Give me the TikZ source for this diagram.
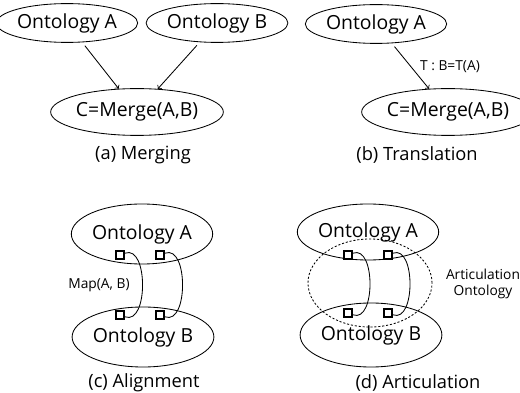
\documentclass[tikz,border=0pt]{standalone}
\usepackage{fontspec}
\setmainfont{Open Sans}
\usetikzlibrary{shapes.geometric}

\tikzset{
  onto/.style={ellipse, draw, inner sep=0pt, font=\fontsize{13.8}{16}\selectfont},
  elem/.style={draw, fill=white, line width=1.7pt, inner sep=0pt, minimum size=5.5pt},
  capt/.style={font=\fontsize{13}{15}\selectfont},
  note/.style={font=\fontsize{9.8}{11.5}\selectfont},
}

\begin{document}
\begin{tikzpicture}[x=0.025cm, y=-0.025cm, line width=0.6pt]
	\useasboundingbox (0,0) rectangle (520,393);
	% (a) merging
	\node[onto, minimum width=3.1cm, minimum height=0.97cm] (ma) at (67,23) {Ontology A};
	\node[onto, minimum width=3.1cm, minimum height=0.97cm] (mb) at (217,23) {Ontology B};
	\node[onto, minimum width=3.5cm, minimum height=1.17cm] (mc) at (137,112) {C=Merge(A,B)};
	\draw[->, shorten <=3pt] (ma) -- (mc);
	\draw[->, shorten <=3pt] (mb) -- (mc);
	\node[capt] (mcap) at (143,155) {(a) Merging};
	% (b) translation
	\node[onto, minimum width=3.1cm, minimum height=0.97cm] (ta) at (376,24) {Ontology A};
	\node[onto, minimum width=3.5cm, minimum height=1.17cm] (tc) at (448,112) {C=Merge(A,B)};
	\draw[->, shorten <=3pt] (ta) -- (tc);
	\node[note] (tlab) at (450,67) {T : B=T(A)};
	\node[capt] (tcap) at (417,155) {(b) Translation};
	% (c) alignment
	\node[onto, minimum width=3cm, minimum height=1.5cm] (aa) at (142,234) {Ontology A};
	\node[onto, minimum width=3cm, minimum height=1.5cm] (ab) at (143,337) {Ontology B};
	\foreach \x/\n in {120/1, 160/2} {
		\node[elem] (aa\n) at (\x,255) {};
		\node[elem] (ab\n) at (\x,315) {};
		\draw (aa\n) to[out=20, in=-20] (ab\n);
	}
	\node[note] (alab) at (99,285) {Map(A, B)};
	\node[capt] (acap) at (144,383) {(c) Alignment};
	% (d) articulation
	\node[ellipse, draw, dash pattern=on 1.5pt off 1.3pt, minimum width=3.1cm, minimum height=2.2cm] (ro) at (370,283) {};
	\node[onto, minimum width=3cm, minimum height=1.4cm] (ra) at (368,232) {Ontology A};
	\node[onto, minimum width=3.05cm, minimum height=1.6cm] (rb) at (371,335) {Ontology B};
	\foreach \x/\n in {348/1, 388/2} {
		\node[elem] (ra\n) at (\x,255) {};
		\node[elem] (rb\n) at (\x,313) {};
		\draw (ra\n) to[out=20, in=-20] (rb\n);
	}
	\node[note, align=center] (rlab) at (483,284) {Articulation\\Ontology};
	\node[capt] (rcap) at (418,383) {(d) Articulation};
\end{tikzpicture}
\end{document}
